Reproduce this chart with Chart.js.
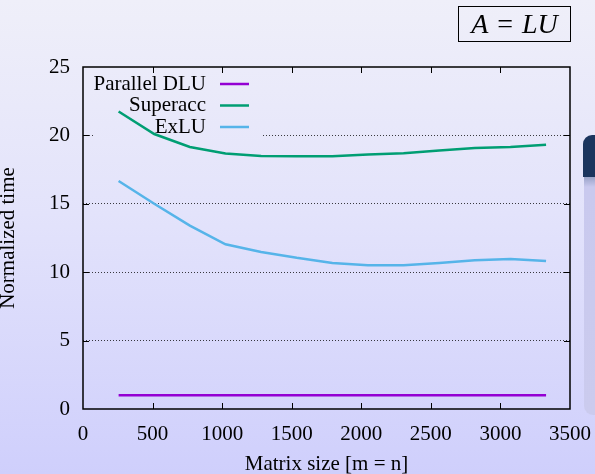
<!DOCTYPE html>
<html>
<head>
<meta charset="utf-8">
<script src="https://cdn.jsdelivr.net/npm/chart.js@4"></script>
<style>
  html, body { margin: 0; padding: 0; }
  body {
    width: 595px; height: 474px; overflow: hidden; position: relative;
    background: linear-gradient(to bottom, #efeff9 0%, #e3e3fb 45%, #cfcffc 100%);
  }
  #c { position: absolute; left: 0; top: 0; }
  #eq {
    position: absolute; left: 458px; top: 6px; width: 111px; height: 34px;
    border: 1px solid #000; display: flex; align-items: center; justify-content: center;
    font-family: "Liberation Serif", serif; font-size: 28px; color: #000;
  }
  #eq i { font-style: italic; }
  #eq .op { margin: 0 9px; }
  #navy {
    position: absolute; left: 583px; top: 135px; width: 20px; height: 42px;
    background: #1b355e; border-top-left-radius: 9px;
  }
  #panel {
    position: absolute; left: 584px; top: 177px; width: 20px; height: 238px;
    background: linear-gradient(to bottom, #9aa3c8 0px, #c9c9ee 10px, #cbcbee 100%);
    border-bottom-left-radius: 9px;
  }
</style>
</head>
<body>
<canvas id="c" width="595" height="474"></canvas>
<div id="eq"><i>A</i><span class="op">=</span><i>LU</i></div>
<div id="navy"></div>
<div id="panel"></div>
<script>
// ---- data ----
const matrixSizes = [256, 512, 768, 1024, 1280, 1536, 1792, 2048, 2304, 2560, 2816, 3072, 3328];
const parallelDLU = [1.0, 1.0, 1.0, 1.0, 1.0, 1.0, 1.0, 1.0, 1.0, 1.0, 1.0, 1.0, 1.0];
const superacc   = [21.75, 20.1, 19.15, 18.67, 18.5, 18.48, 18.47, 18.6, 18.7, 18.9, 19.08, 19.15, 19.32];
const exLU       = [16.67, 15.0, 13.4, 12.04, 11.48, 11.05, 10.68, 10.5, 10.5, 10.68, 10.87, 10.97, 10.82];
const seriesNames = ["Parallel DLU", "Superacc", "ExLU"];
const seriesColors = ["#9400d3", "#009e73", "#56b4e9"];
const xTicks = [0, 500, 1000, 1500, 2000, 2500, 3000, 3500];
const yTicks = [0, 5, 10, 15, 20, 25];

const FONT = "Liberation Serif";
const pts = (arr) => matrixSizes.map((x, i) => ({ x: x, y: arr[i] }));

const frameAndLegend = {
  id: 'frameAndLegend',
  beforeDatasetsDraw(chart) {
    const ctx = chart.ctx;
    const a = chart.chartArea;
    // opaque key area
    ctx.clearRect(a.left + 12, a.top + 2, 167, 71);
    ctx.save();
    ctx.font = "21px '" + FONT + "'";
    ctx.fillStyle = "#000";
    ctx.textAlign = "right";
    ctx.textBaseline = "middle";
    const textRight = a.left + 123;
    for (let i = 0; i < seriesNames.length; i++) {
      const y = a.top + 17 + i * 21.5;
      ctx.fillText(seriesNames[i], textRight, y);
      ctx.beginPath();
      ctx.strokeStyle = seriesColors[i];
      ctx.lineWidth = 2.5;
      ctx.moveTo(a.left + 137, y);
      ctx.lineTo(a.left + 166, y);
      ctx.stroke();
    }
    ctx.restore();
  },
  afterDatasetsDraw(chart) {
    const ctx = chart.ctx;
    const a = chart.chartArea;
    const xs = chart.scales.x, ys = chart.scales.y;
    ctx.save();
    ctx.strokeStyle = "#000";
    ctx.lineWidth = 1;
    const tl = 6;
    xTicks.forEach(v => {
      if (v === xTicks[0] || v === xTicks[xTicks.length - 1]) return;
      const px = Math.round(xs.getPixelForValue(v)) + 0.5;
      ctx.beginPath();
      ctx.moveTo(px, a.bottom); ctx.lineTo(px, a.bottom - tl);
      ctx.moveTo(px, a.top); ctx.lineTo(px, a.top + tl);
      ctx.stroke();
    });
    yTicks.forEach(v => {
      if (v === yTicks[0] || v === yTicks[yTicks.length - 1]) return;
      const py = Math.round(ys.getPixelForValue(v)) + 0.5;
      ctx.beginPath();
      ctx.moveTo(a.left, py); ctx.lineTo(a.left + tl, py);
      ctx.moveTo(a.right, py); ctx.lineTo(a.right - tl, py);
      ctx.stroke();
    });
    ctx.lineWidth = 1.5;
    ctx.strokeRect(a.left, a.top, a.right - a.left, a.bottom - a.top);
    ctx.restore();
  }
};

new Chart(document.getElementById('c'), {
  type: 'line',
  data: {
    datasets: [
      { label: seriesNames[0], data: pts(parallelDLU), borderColor: seriesColors[0] },
      { label: seriesNames[1], data: pts(superacc), borderColor: seriesColors[1] },
      { label: seriesNames[2], data: pts(exLU), borderColor: seriesColors[2] }
    ]
  },
  options: {
    responsive: false,
    animation: false,
    devicePixelRatio: 1,
    layout: { padding: { left: 0, right: 25, top: 67, bottom: 0 } },
    elements: {
      line: { borderWidth: 2.5, tension: 0, fill: false, borderCapStyle: 'butt' },
      point: { radius: 0, hoverRadius: 0 }
    },
    plugins: { legend: { display: false }, tooltip: { enabled: false } },
    scales: {
      x: {
        type: 'linear', min: 0, max: 3500,
        afterBuildTicks: (s) => { s.ticks = xTicks.map(v => ({ value: v })); },
        afterFit: (s) => { s.height = 65; },
        grid: { display: true, drawOnChartArea: false, drawTicks: true, tickLength: 13,
                tickColor: 'rgba(0,0,0,0)', color: 'rgba(0,0,0,0)' },
        border: { display: false },
        ticks: { color: '#000', padding: 0, maxRotation: 0, autoSkip: false,
                 callback: (v) => String(v),
                 font: { family: FONT, size: 21 } },
        title: { display: true, text: 'Matrix size [m = n]', color: '#000',
                 padding: { top: 0, bottom: 2 },
                 font: { family: FONT, size: 21, lineHeight: '16px' } }
      },
      y: {
        type: 'linear', min: 0, max: 25,
        afterBuildTicks: (s) => { s.ticks = yTicks.map(v => ({ value: v })); },
        afterFit: (s) => { s.width = 83; },
        grid: {
          drawTicks: false, lineWidth: 1,
          color: (c) => (c.tick && (c.tick.value === 0 || c.tick.value === 25)) ? 'rgba(0,0,0,0)' : 'rgba(0,0,0,0.75)'
        },
        border: { display: false, dash: [1, 2] },
        ticks: { color: '#000', padding: 13, callback: (v) => String(v),
                 font: { family: FONT, size: 21 } },
        title: { display: true, text: 'Normalized time', color: '#000',
                 padding: { top: 0, bottom: 0 },
                 font: { family: FONT, size: 21, lineHeight: '16px' } }
      }
    }
  },
  plugins: [frameAndLegend]
});
</script>
</body>
</html>
